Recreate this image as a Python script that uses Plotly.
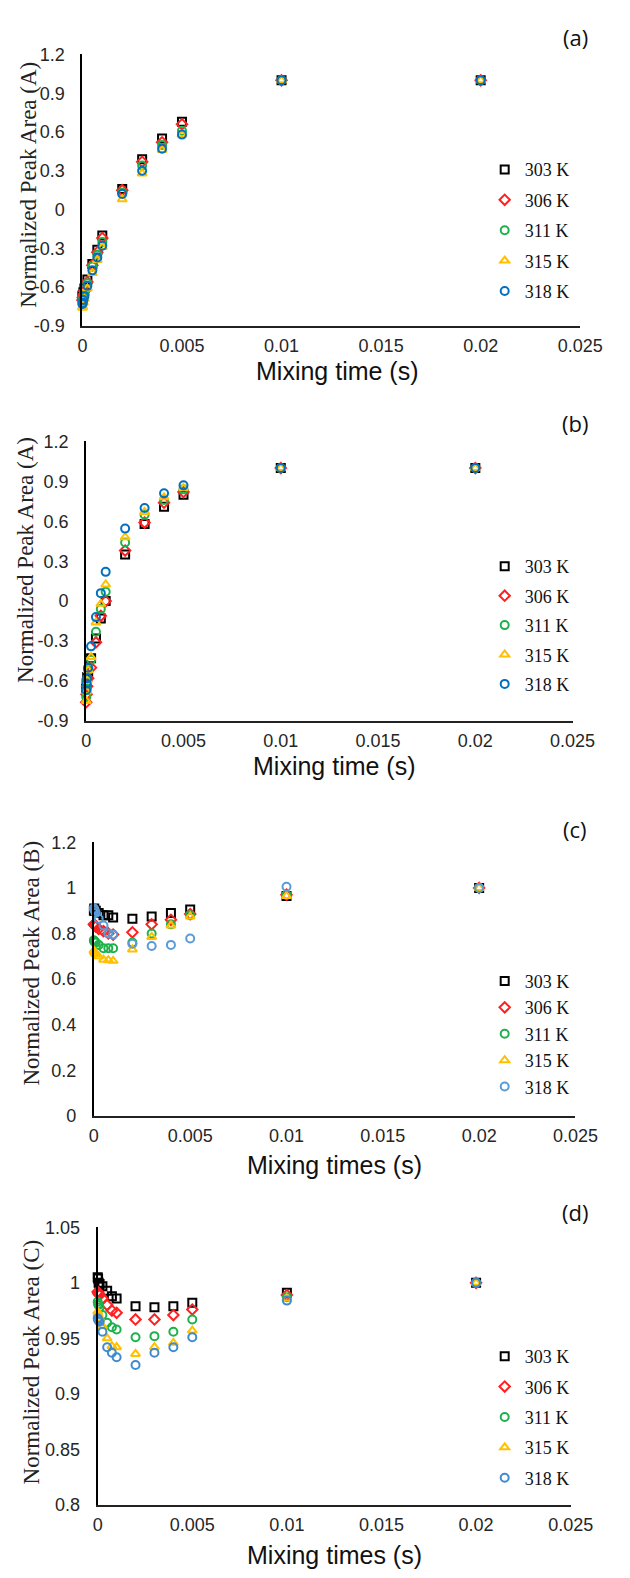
import plotly.graph_objects as go

# ---------------- data ----------------
t = [0, 0.00002, 0.00005, 0.0001, 0.00025, 0.0005, 0.00075, 0.001,
     0.002, 0.003, 0.004, 0.005, 0.01, 0.02]
temps = ["303 K", "306 K", "311 K", "315 K", "318 K"]

a_303 = [-0.67, -0.66, -0.64, -0.61, -0.54, -0.42, -0.31, -0.20, 0.16, 0.39, 0.55, 0.68, 1.0, 1.0]
a_306 = [-0.70, -0.68, -0.66, -0.63, -0.56, -0.43, -0.33, -0.22, 0.15, 0.37, 0.52, 0.66, 1.0, 1.0]
a_311 = [-0.72, -0.70, -0.68, -0.65, -0.57, -0.44, -0.35, -0.25, 0.13, 0.34, 0.50, 0.61, 1.0, 1.0]
a_315 = [-0.76, -0.75, -0.72, -0.69, -0.61, -0.49, -0.39, -0.29, 0.08, 0.28, 0.46, 0.58, 1.0, 1.0]
a_318 = [-0.73, -0.72, -0.70, -0.67, -0.59, -0.47, -0.37, -0.28, 0.12, 0.30, 0.47, 0.58, 1.0, 1.0]

b_303 = [-0.66, -0.62, -0.57, -0.53, -0.43, -0.28, -0.13, 0.00, 0.35, 0.58, 0.71, 0.80, 1.0, 1.0]
b_306 = [-0.76, -0.70, -0.64, -0.58, -0.50, -0.31, -0.11, 0.00, 0.38, 0.59, 0.74, 0.82, 1.0, 1.0]
b_311 = [-0.72, -0.66, -0.60, -0.52, -0.44, -0.23, -0.06, 0.07, 0.44, 0.65, 0.76, 0.84, 1.0, 1.0]
b_315 = [-0.75, -0.68, -0.60, -0.52, -0.42, -0.16, -0.02, 0.125, 0.48, 0.67, 0.78, 0.85, 1.0, 1.0]
b_318 = [-0.67, -0.62, -0.58, -0.50, -0.34, -0.12, 0.06, 0.22, 0.545, 0.70, 0.81, 0.87, 1.0, 1.0]

c_303 = [0.90, 0.91, 0.90, 0.90, 0.89, 0.88, 0.88, 0.87, 0.865, 0.875, 0.89, 0.905, 0.965, 1.0]
c_306 = [0.84, 0.84, 0.835, 0.83, 0.82, 0.81, 0.80, 0.795, 0.805, 0.84, 0.86, 0.885, 0.97, 1.0]
c_311 = [0.77, 0.765, 0.765, 0.76, 0.75, 0.735, 0.735, 0.735, 0.76, 0.80, 0.84, 0.88, 0.97, 1.0]
c_315 = [0.725, 0.72, 0.715, 0.71, 0.70, 0.685, 0.683, 0.68, 0.73, 0.785, 0.835, 0.875, 0.965, 1.0]
c_318 = [0.91, 0.905, 0.90, 0.89, 0.865, 0.835, 0.80, 0.795, 0.755, 0.745, 0.75, 0.778, 1.005, 1.0]

d_303 = [1.005, 1.004, 1.0, 0.999, 0.997, 0.993, 0.988, 0.986, 0.979, 0.978, 0.979, 0.982, 0.991, 1.0]
d_306 = [0.992, 0.991, 0.990, 0.989, 0.986, 0.980, 0.975, 0.973, 0.967, 0.967, 0.971, 0.976, 0.989, 1.0]
d_311 = [0.983, 0.981, 0.980, 0.978, 0.971, 0.964, 0.960, 0.958, 0.951, 0.952, 0.956, 0.967, 0.987, 1.0]
d_315 = [0.974, 0.972, 0.970, 0.968, 0.961, 0.950, 0.943, 0.942, 0.936, 0.942, 0.946, 0.957, 0.986, 1.0]
d_318 = [0.968, 0.967, 0.966, 0.965, 0.956, 0.942, 0.937, 0.933, 0.926, 0.937, 0.942, 0.951, 0.984, 1.0]

x_ticks = [0, 0.005, 0.01, 0.015, 0.02, 0.025]
x_ticktext = ["0", "0.005", "0.01", "0.015", "0.02", "0.025"]
yA_ticks = [-0.9, -0.6, -0.3, 0, 0.3, 0.6, 0.9, 1.2]
yA_ticktext = ["-0.9", "-0.6", "-0.3", "0", "0.3", "0.6", "0.9", "1.2"]
yB_ticks = [0, 0.2, 0.4, 0.6, 0.8, 1.0, 1.2]
yB_ticktext = ["0", "0.2", "0.4", "0.6", "0.8", "1", "1.2"]
yC_ticks = [0.8, 0.85, 0.9, 0.95, 1.0, 1.05]
yC_ticktext = ["0.8", "0.85", "0.9", "0.95", "1", "1.05"]

panels = [
    dict(series=[a_303, a_306, a_311, a_315, a_318], yr=[-0.9, 1.2], yt=yA_ticks, ytt=yA_ticktext,
         xpix=(81, 602), ypix=(45, 320), ytitle="Normalized Peak Area (A)", ytx=25, yty=177,
         xtitle="Mixing time (s)", xtx=348, xty=366, lab="(a)", labx=597, laby=27,
         legy=143, gap=4, blue="#0070C0"),
    dict(series=[b_303, b_306, b_311, b_315, b_318], yr=[-0.9, 1.2], yt=yA_ticks, ytt=yA_ticktext,
         xpix=(85, 594), ypix=(437, 720), ytitle="Normalized Peak Area (A)", ytx=22, yty=557,
         xtitle="Mixing time (s)", xtx=345, xty=766, lab="(b)", labx=597, laby=418,
         legy=545, gap=3, blue="#0070C0"),
    dict(series=[c_303, c_306, c_311, c_315, c_318], yr=[0, 1.2], yt=yB_ticks, ytt=yB_ticktext,
         xpix=(93, 597), ypix=(843, 1120), ytitle="Normalized Peak Area (B)", ytx=28, yty=965,
         xtitle="Mixing times (s)", xtx=345, xty=1170, lab="(c)", labx=597, laby=830,
         legy=965, gap=0, blue="#5B9BD5"),
    dict(series=[d_303, d_306, d_311, d_315, d_318], yr=[0.8, 1.05], yt=yC_ticks, ytt=yC_ticktext,
         xpix=(97, 592), ypix=(1233, 1514), ytitle="Normalized Peak Area (C)", ytx=28, yty=1369,
         xtitle="Mixing times (s)", xtx=345, xty=1565, lab="(d)", labx=597, laby=1217,
         legy=1345, gap=4, blue="#3F8BD0"),
]

W, H = 630, 1578
symbols = ["square-open", "diamond-open", "circle-open", "triangle-up-open", "circle-open"]
base_colors = ["#000000", "#FF2020", "#1DB14B", "#FFC000"]

fig = go.Figure()
layout = dict(width=W, height=H, margin=dict(l=0, r=0, t=0, b=0),
              paper_bgcolor="white", plot_bgcolor="white", annotations=[])

for i, p in enumerate(panels):
    n = "" if i == 0 else str(i + 1)
    leg = "legend" + n
    colors = base_colors + [p["blue"]]
    for k, (ys, name) in enumerate(zip(p["series"], temps)):
        fig.add_trace(go.Scatter(
            x=t, y=ys, mode="markers", name=name,
            xaxis="x" + n, yaxis="y" + n, legend=leg,
            legendgroup=f"g{i}_{k}", cliponaxis=False,
            marker=dict(symbol=symbols[k], size=8,
                        color=colors[k], line=dict(width=2, color=colors[k])),
        ))
    x0, x1 = p["xpix"]
    y0, y1 = p["ypix"]
    layout["xaxis" + n] = dict(
        domain=[x0 / W, x1 / W], range=[0, 0.025], anchor="y" + n,
        tickvals=x_ticks, ticktext=x_ticktext, showgrid=False, zeroline=False,
        showline=True, linecolor="#222222", linewidth=1.5, ticks="",
        ticklabelstandoff=3, tickfont=dict(family="Liberation Sans, Arial", size=18, color="#262626"),
    )
    layout["yaxis" + n] = dict(
        domain=[1 - y1 / H, 1 - y0 / H], range=p["yr"], anchor="x" + n,
        tickvals=p["yt"], ticktext=p["ytt"], showgrid=False, zeroline=False,
        showline=True, linecolor="#000000", linewidth=2, ticks="",
        ticklabelstandoff=12, tickfont=dict(family="Liberation Sans, Arial", size=18, color="#262626"),
    )
    layout[leg] = dict(
        x=502 / W, xanchor="left", y=1 - p["legy"] / H, yanchor="top",
        bgcolor="rgba(0,0,0,0)", borderwidth=0, tracegroupgap=p["gap"],
        font=dict(family="Liberation Serif, Times New Roman", size=18, color="#111111"),
    )
    layout["annotations"] += [
        dict(text=p["ytitle"], x=p["ytx"] / W, y=1 - p["yty"] / H, xref="paper", yref="paper",
             textangle=-90, showarrow=False, xanchor="center", yanchor="middle",
             font=dict(family="Liberation Serif, Times New Roman", size=23, color="#222222")),
        dict(text=p["xtitle"], x=p["xtx"] / W, y=1 - p["xty"] / H, xref="paper", yref="paper",
             showarrow=False, xanchor="center", yanchor="middle",
             font=dict(family="Liberation Sans, Arial", size=25, color="#111111")),
        dict(text=p["lab"], x=p["labx"] / W, y=1 - p["laby"] / H, xref="paper", yref="paper",
             showarrow=False, xanchor="center", yanchor="middle",
             font=dict(family="Open Sans, Arial", size=22, color="#111111")),
    ]

fig.update_layout(**layout)
fig.write_html("out.html")
